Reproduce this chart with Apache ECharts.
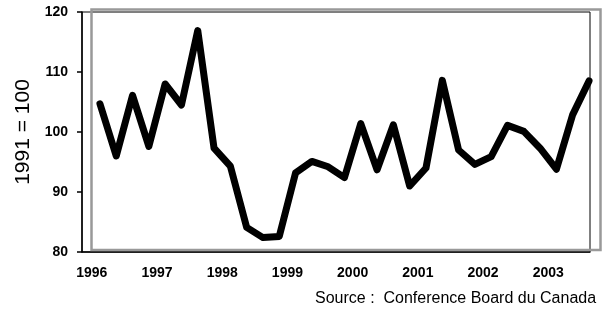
<!DOCTYPE html>
<html>
<head>
<meta charset="utf-8">
<script src="https://cdn.jsdelivr.net/npm/echarts@6/dist/echarts.min.js"></script>
<style>
  html, body { margin: 0; padding: 0; background: #fff; }
  #main { width: 607px; height: 312px; }
</style>
</head>
<body>
<div id="main"></div>
<script>
// trimestres 1996T1 .. 2003T3
var years = [1996, 1996, 1996, 1996, 1997, 1997, 1997, 1997, 1998, 1998, 1998, 1998,
             1999, 1999, 1999, 1999, 2000, 2000, 2000, 2000, 2001, 2001, 2001, 2001,
             2002, 2002, 2002, 2002, 2003, 2003, 2003];
var quarters = [1, 2, 3, 4, 1, 2, 3, 4, 1, 2, 3, 4, 1, 2, 3, 4, 1, 2, 3, 4, 1, 2, 3, 4,
                1, 2, 3, 4, 1, 2, 3];
// indice (1991 = 100)
var indexValues = [104.7, 96.0, 106.1, 97.6, 108.0, 104.5, 116.9, 97.3, 94.3, 84.1, 82.4, 82.6,
                   93.2, 95.1, 94.2, 92.4, 101.4, 93.7, 101.2, 91.0, 94.0, 108.6, 97.0, 94.6,
                   95.9, 101.1, 100.1, 97.3, 93.8, 102.9, 108.5];
var yearLabels = [1996, 1997, 1998, 1999, 2000, 2001, 2002, 2003];
var yTicks = [80, 90, 100, 110, 120];

// point au milieu du trimestre
var seriesData = [];
for (var i = 0; i < indexValues.length; i++) {
    seriesData.push([years[i] + (quarters[i] - 0.5) / 4, indexValues[i]]);
}

var chart = echarts.init(document.getElementById('main'));
chart.setOption({
    animation: false,
    grid: {
        left: 82, right: 17, top: 12, bottom: 60,
        show: true, borderColor: '#000', borderWidth: 1, backgroundColor: 'transparent'
    },
    graphic: [{
        type: 'rect',
        silent: true,
        shape: { x: 91.5, y: 9.5, width: 509, height: 240.5 },
        style: { fill: 'none', stroke: '#999', lineWidth: 2.5 },
        z: 1
    }, {
        type: 'text',
        left: 315, top: 291,
        style: {
            text: 'Source :  Conference Board du Canada',
            font: '16px "Liberation Sans", Arial, sans-serif',
            fill: '#000'
        }
    }],
    xAxis: {
        type: 'value',
        min: 1995.85,
        max: 2003.64,
        axisLine: { show: true, lineStyle: { color: '#000', width: 1.5 } },
        axisTick: { show: false },
        splitLine: { show: false },
        axisLabel: {
            customValues: yearLabels,
            margin: 14,
            color: '#000',
            fontWeight: 'bold',
            fontSize: 14,
            fontFamily: '"Liberation Sans", Arial, sans-serif',
            formatter: function (v) { return String(Math.round(v)); }
        }
    },
    yAxis: {
        type: 'value',
        min: 80,
        max: 120,
        interval: 10,
        name: '1991 = 100',
        nameLocation: 'middle',
        nameGap: 48,
        nameTextStyle: {
            color: '#000',
            fontSize: 21,
            fontFamily: '"Liberation Sans", Arial, sans-serif'
        },
        axisLine: { show: true, lineStyle: { color: '#000', width: 1.5 } },
        axisTick: { show: true, length: 5, lineStyle: { color: '#000', width: 1.5 } },
        splitLine: { show: false },
        axisLabel: {
            customValues: yTicks,
            margin: 14,
            color: '#000',
            fontWeight: 'bold',
            fontSize: 14,
            fontFamily: '"Liberation Sans", Arial, sans-serif'
        }
    },
    series: [{
        type: 'line',
        data: seriesData,
        showSymbol: false,
        symbol: 'none',
        lineStyle: { color: '#000', width: 7, join: 'round', cap: 'round' },
        z: 3
    }]
});
</script>
</body>
</html>
